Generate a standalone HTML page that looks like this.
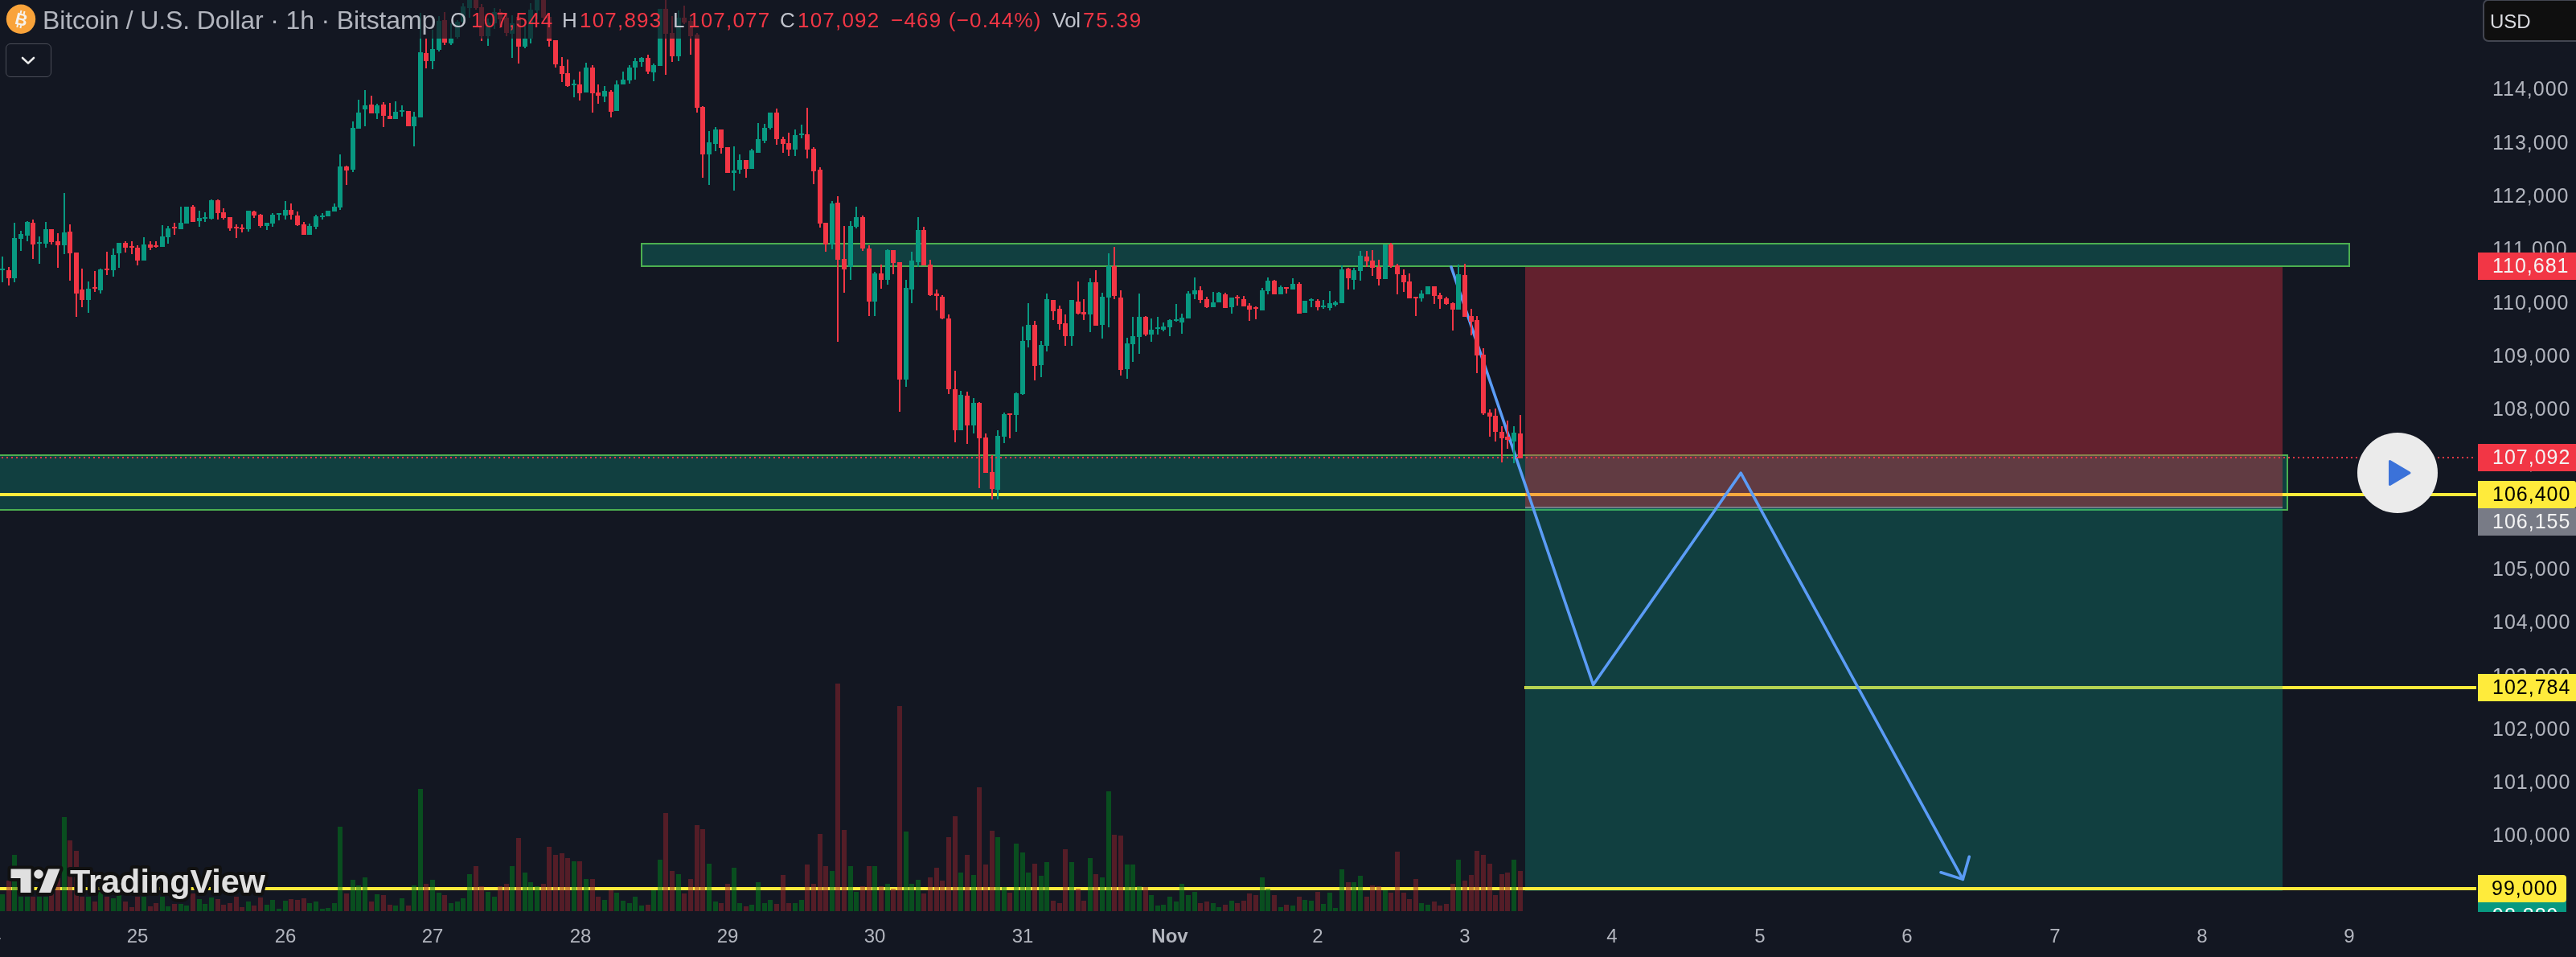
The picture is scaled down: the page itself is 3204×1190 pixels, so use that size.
<!DOCTYPE html>
<html><head><meta charset="utf-8"><title>BTCUSD chart</title>
<style>
html,body{margin:0;padding:0;background:#131722;}
body{width:3204px;height:1190px;overflow:hidden;position:relative;font-family:"Liberation Sans",sans-serif;}
svg{position:absolute;left:0;top:0;}
.abs{position:absolute;white-space:nowrap;}
.pl,.tag,.tl,.lg,.abs,.gs{will-change:transform;}
.pl{position:absolute;left:3100px;width:96px;height:30px;line-height:30px;font-size:25px;letter-spacing:1px;color:#b2b5be;white-space:nowrap;}
.tag{position:absolute;left:3082px;width:122px;height:34px;line-height:32px;font-size:25px;letter-spacing:1px;white-space:nowrap;text-indent:18px;}
.tl{position:absolute;top:1149px;width:100px;height:30px;line-height:30px;text-align:center;font-size:24px;color:#b2b5be;}
.tl.b{font-weight:bold;}
.lg{position:absolute;top:10px;height:30px;line-height:30px;font-size:26px;white-space:nowrap;}
.k{color:#c1c4cd;} .v{color:#f23645;letter-spacing:1.2px;}
</style></head><body>
<svg width="3204" height="1190" viewBox="0 0 3204 1190" shape-rendering="crispEdges">
<!-- support / resistance boxes -->
<rect x="798" y="303" width="2124" height="28" fill="rgba(12,156,137,0.3)" stroke="#4caf50" stroke-width="2"/>
<rect x="-10" y="566" width="2855" height="68" fill="rgba(12,156,137,0.3)" stroke="#4caf50" stroke-width="2"/>
<!-- yellow levels -->
<rect x="0" y="613" width="3080" height="4" fill="#ffeb3b"/>
<rect x="1896" y="853" width="1184" height="4" fill="#ffeb3b"/>
<!-- short position -->
<rect x="1897" y="332" width="942" height="299" fill="rgba(242,54,69,0.36)"/>
<rect x="1897" y="630" width="942" height="2" fill="#787b86"/>
<rect x="1897" y="632" width="942" height="476" fill="rgba(12,156,137,0.3)"/>
<rect x="0" y="1103" width="3080" height="4" fill="#ffeb3b"/>
<g shape-rendering="auto" fill="none" stroke="#5b9cf6" stroke-width="3.6" stroke-linecap="round" stroke-linejoin="round">
<polyline points="1805,332 1981.6,851.5 2165.2,588.2 2441.3,1093.4"/>
<polyline points="2449.3,1065.3 2441.3,1093.4 2414,1084.8"/>
</g>
<!-- candles -->
<rect x="2" y="319" width="2" height="32" fill="#089981"/>
<rect x="0" y="334" width="6" height="2" fill="#089981"/>
<rect x="10" y="332" width="2" height="23" fill="#f23645"/>
<rect x="8" y="336" width="6" height="10" fill="#f23645"/>
<rect x="17" y="277" width="2" height="74" fill="#089981"/>
<rect x="15" y="296" width="6" height="50" fill="#089981"/>
<rect x="25" y="287" width="2" height="25" fill="#089981"/>
<rect x="23" y="291" width="6" height="6" fill="#089981"/>
<rect x="33" y="275" width="2" height="25" fill="#089981"/>
<rect x="31" y="276" width="6" height="17" fill="#089981"/>
<rect x="40" y="273" width="2" height="49" fill="#f23645"/>
<rect x="38" y="277" width="6" height="27" fill="#f23645"/>
<rect x="48" y="294" width="2" height="34" fill="#089981"/>
<rect x="46" y="301" width="6" height="2" fill="#089981"/>
<rect x="56" y="276" width="2" height="32" fill="#089981"/>
<rect x="54" y="285" width="6" height="18" fill="#089981"/>
<rect x="63" y="285" width="2" height="19" fill="#f23645"/>
<rect x="61" y="285" width="6" height="16" fill="#f23645"/>
<rect x="71" y="290" width="2" height="43" fill="#f23645"/>
<rect x="69" y="300" width="6" height="5" fill="#f23645"/>
<rect x="79" y="240" width="2" height="76" fill="#089981"/>
<rect x="77" y="289" width="6" height="16" fill="#089981"/>
<rect x="86" y="279" width="2" height="70" fill="#f23645"/>
<rect x="84" y="288" width="6" height="27" fill="#f23645"/>
<rect x="94" y="314" width="2" height="80" fill="#f23645"/>
<rect x="92" y="314" width="6" height="51" fill="#f23645"/>
<rect x="101" y="334" width="2" height="48" fill="#f23645"/>
<rect x="99" y="360" width="6" height="13" fill="#f23645"/>
<rect x="109" y="350" width="2" height="39" fill="#089981"/>
<rect x="107" y="359" width="6" height="14" fill="#089981"/>
<rect x="117" y="337" width="2" height="26" fill="#f23645"/>
<rect x="115" y="357" width="6" height="2" fill="#f23645"/>
<rect x="124" y="334" width="2" height="31" fill="#089981"/>
<rect x="122" y="335" width="6" height="26" fill="#089981"/>
<rect x="132" y="313" width="2" height="29" fill="#f23645"/>
<rect x="130" y="334" width="6" height="2" fill="#f23645"/>
<rect x="140" y="309" width="2" height="35" fill="#089981"/>
<rect x="138" y="317" width="6" height="19" fill="#089981"/>
<rect x="147" y="302" width="2" height="31" fill="#089981"/>
<rect x="145" y="302" width="6" height="13" fill="#089981"/>
<rect x="155" y="300" width="2" height="14" fill="#f23645"/>
<rect x="153" y="302" width="6" height="6" fill="#f23645"/>
<rect x="163" y="300" width="2" height="16" fill="#f23645"/>
<rect x="161" y="306" width="6" height="2" fill="#f23645"/>
<rect x="170" y="305" width="2" height="25" fill="#f23645"/>
<rect x="168" y="308" width="6" height="16" fill="#f23645"/>
<rect x="178" y="295" width="2" height="29" fill="#089981"/>
<rect x="176" y="304" width="6" height="20" fill="#089981"/>
<rect x="186" y="300" width="2" height="11" fill="#f23645"/>
<rect x="184" y="304" width="6" height="4" fill="#f23645"/>
<rect x="193" y="300" width="2" height="8" fill="#f23645"/>
<rect x="191" y="305" width="6" height="2" fill="#f23645"/>
<rect x="201" y="280" width="2" height="27" fill="#089981"/>
<rect x="199" y="294" width="6" height="13" fill="#089981"/>
<rect x="208" y="281" width="2" height="22" fill="#089981"/>
<rect x="206" y="284" width="6" height="11" fill="#089981"/>
<rect x="216" y="277" width="2" height="15" fill="#f23645"/>
<rect x="214" y="282" width="6" height="2" fill="#f23645"/>
<rect x="224" y="257" width="2" height="28" fill="#089981"/>
<rect x="222" y="277" width="6" height="8" fill="#089981"/>
<rect x="231" y="257" width="2" height="21" fill="#089981"/>
<rect x="229" y="257" width="6" height="21" fill="#089981"/>
<rect x="239" y="255" width="2" height="21" fill="#f23645"/>
<rect x="237" y="257" width="6" height="19" fill="#f23645"/>
<rect x="247" y="262" width="2" height="20" fill="#089981"/>
<rect x="245" y="271" width="6" height="4" fill="#089981"/>
<rect x="254" y="264" width="2" height="12" fill="#089981"/>
<rect x="252" y="270" width="6" height="2" fill="#089981"/>
<rect x="262" y="248" width="2" height="25" fill="#089981"/>
<rect x="260" y="249" width="6" height="23" fill="#089981"/>
<rect x="270" y="248" width="2" height="25" fill="#f23645"/>
<rect x="268" y="249" width="6" height="16" fill="#f23645"/>
<rect x="277" y="259" width="2" height="14" fill="#f23645"/>
<rect x="275" y="264" width="6" height="7" fill="#f23645"/>
<rect x="285" y="270" width="2" height="17" fill="#f23645"/>
<rect x="283" y="270" width="6" height="14" fill="#f23645"/>
<rect x="293" y="279" width="2" height="17" fill="#f23645"/>
<rect x="291" y="282" width="6" height="2" fill="#f23645"/>
<rect x="300" y="279" width="2" height="10" fill="#f23645"/>
<rect x="298" y="283" width="6" height="2" fill="#f23645"/>
<rect x="308" y="262" width="2" height="26" fill="#089981"/>
<rect x="306" y="262" width="6" height="23" fill="#089981"/>
<rect x="315" y="262" width="2" height="9" fill="#f23645"/>
<rect x="313" y="263" width="6" height="5" fill="#f23645"/>
<rect x="323" y="266" width="2" height="17" fill="#f23645"/>
<rect x="321" y="267" width="6" height="14" fill="#f23645"/>
<rect x="331" y="277" width="2" height="9" fill="#089981"/>
<rect x="329" y="277" width="6" height="4" fill="#089981"/>
<rect x="338" y="265" width="2" height="17" fill="#089981"/>
<rect x="336" y="267" width="6" height="11" fill="#089981"/>
<rect x="346" y="265" width="2" height="9" fill="#089981"/>
<rect x="344" y="265" width="6" height="2" fill="#089981"/>
<rect x="354" y="250" width="2" height="23" fill="#089981"/>
<rect x="352" y="261" width="6" height="7" fill="#089981"/>
<rect x="361" y="253" width="2" height="20" fill="#f23645"/>
<rect x="359" y="261" width="6" height="6" fill="#f23645"/>
<rect x="369" y="263" width="2" height="18" fill="#f23645"/>
<rect x="367" y="268" width="6" height="12" fill="#f23645"/>
<rect x="377" y="276" width="2" height="16" fill="#f23645"/>
<rect x="375" y="279" width="6" height="13" fill="#f23645"/>
<rect x="384" y="278" width="2" height="14" fill="#089981"/>
<rect x="382" y="281" width="6" height="11" fill="#089981"/>
<rect x="392" y="267" width="2" height="18" fill="#089981"/>
<rect x="390" y="269" width="6" height="13" fill="#089981"/>
<rect x="400" y="265" width="2" height="8" fill="#089981"/>
<rect x="398" y="268" width="6" height="2" fill="#089981"/>
<rect x="407" y="262" width="2" height="7" fill="#089981"/>
<rect x="405" y="262" width="6" height="7" fill="#089981"/>
<rect x="415" y="253" width="2" height="10" fill="#089981"/>
<rect x="413" y="257" width="6" height="6" fill="#089981"/>
<rect x="422" y="192" width="2" height="69" fill="#089981"/>
<rect x="420" y="207" width="6" height="51" fill="#089981"/>
<rect x="430" y="206" width="2" height="24" fill="#f23645"/>
<rect x="428" y="207" width="6" height="5" fill="#f23645"/>
<rect x="438" y="151" width="2" height="63" fill="#089981"/>
<rect x="436" y="159" width="6" height="52" fill="#089981"/>
<rect x="445" y="124" width="2" height="36" fill="#089981"/>
<rect x="443" y="140" width="6" height="20" fill="#089981"/>
<rect x="453" y="112" width="2" height="45" fill="#089981"/>
<rect x="451" y="131" width="6" height="5" fill="#089981"/>
<rect x="461" y="119" width="2" height="22" fill="#f23645"/>
<rect x="459" y="130" width="6" height="11" fill="#f23645"/>
<rect x="468" y="129" width="2" height="19" fill="#089981"/>
<rect x="466" y="131" width="6" height="10" fill="#089981"/>
<rect x="476" y="127" width="2" height="31" fill="#f23645"/>
<rect x="474" y="130" width="6" height="14" fill="#f23645"/>
<rect x="484" y="128" width="2" height="20" fill="#f23645"/>
<rect x="482" y="144" width="6" height="4" fill="#f23645"/>
<rect x="491" y="126" width="2" height="22" fill="#089981"/>
<rect x="489" y="139" width="6" height="9" fill="#089981"/>
<rect x="499" y="131" width="2" height="14" fill="#089981"/>
<rect x="497" y="137" width="6" height="2" fill="#089981"/>
<rect x="507" y="138" width="2" height="19" fill="#f23645"/>
<rect x="505" y="138" width="6" height="19" fill="#f23645"/>
<rect x="514" y="139" width="2" height="43" fill="#089981"/>
<rect x="512" y="145" width="6" height="12" fill="#089981"/>
<rect x="522" y="16" width="2" height="130" fill="#089981"/>
<rect x="520" y="65" width="6" height="81" fill="#089981"/>
<rect x="529" y="48" width="2" height="37" fill="#f23645"/>
<rect x="527" y="66" width="6" height="10" fill="#f23645"/>
<rect x="537" y="37" width="2" height="49" fill="#089981"/>
<rect x="535" y="61" width="6" height="15" fill="#089981"/>
<rect x="545" y="20" width="2" height="44" fill="#089981"/>
<rect x="543" y="26" width="6" height="36" fill="#089981"/>
<rect x="552" y="15" width="2" height="41" fill="#f23645"/>
<rect x="550" y="25" width="6" height="28" fill="#f23645"/>
<rect x="560" y="29" width="2" height="27" fill="#089981"/>
<rect x="558" y="48" width="6" height="6" fill="#089981"/>
<rect x="568" y="25" width="2" height="23" fill="#089981"/>
<rect x="566" y="27" width="6" height="19" fill="#089981"/>
<rect x="575" y="4" width="2" height="28" fill="#089981"/>
<rect x="573" y="8" width="6" height="19" fill="#089981"/>
<rect x="583" y="-2" width="2" height="24" fill="#089981"/>
<rect x="581" y="-2" width="6" height="12" fill="#089981"/>
<rect x="591" y="-2" width="2" height="14" fill="#f23645"/>
<rect x="589" y="-2" width="6" height="12" fill="#f23645"/>
<rect x="598" y="5" width="2" height="46" fill="#f23645"/>
<rect x="596" y="9" width="6" height="36" fill="#f23645"/>
<rect x="606" y="23" width="2" height="34" fill="#089981"/>
<rect x="604" y="28" width="6" height="17" fill="#089981"/>
<rect x="614" y="10" width="2" height="26" fill="#089981"/>
<rect x="612" y="15" width="6" height="14" fill="#089981"/>
<rect x="621" y="11" width="2" height="24" fill="#f23645"/>
<rect x="619" y="15" width="6" height="9" fill="#f23645"/>
<rect x="629" y="16" width="2" height="29" fill="#f23645"/>
<rect x="627" y="22" width="6" height="19" fill="#f23645"/>
<rect x="636" y="19" width="2" height="53" fill="#089981"/>
<rect x="634" y="29" width="6" height="13" fill="#089981"/>
<rect x="644" y="20" width="2" height="59" fill="#f23645"/>
<rect x="642" y="21" width="6" height="37" fill="#f23645"/>
<rect x="652" y="32" width="2" height="28" fill="#089981"/>
<rect x="650" y="48" width="6" height="10" fill="#089981"/>
<rect x="659" y="4" width="2" height="50" fill="#089981"/>
<rect x="657" y="12" width="6" height="36" fill="#089981"/>
<rect x="667" y="-2" width="2" height="26" fill="#089981"/>
<rect x="665" y="-2" width="6" height="15" fill="#089981"/>
<rect x="675" y="-2" width="2" height="25" fill="#f23645"/>
<rect x="673" y="-2" width="6" height="24" fill="#f23645"/>
<rect x="682" y="20" width="2" height="38" fill="#f23645"/>
<rect x="680" y="21" width="6" height="30" fill="#f23645"/>
<rect x="690" y="50" width="2" height="34" fill="#f23645"/>
<rect x="688" y="50" width="6" height="30" fill="#f23645"/>
<rect x="698" y="71" width="2" height="31" fill="#f23645"/>
<rect x="696" y="82" width="6" height="10" fill="#f23645"/>
<rect x="705" y="74" width="2" height="34" fill="#f23645"/>
<rect x="703" y="91" width="6" height="16" fill="#f23645"/>
<rect x="713" y="99" width="2" height="22" fill="#089981"/>
<rect x="711" y="104" width="6" height="2" fill="#089981"/>
<rect x="720" y="89" width="2" height="36" fill="#f23645"/>
<rect x="718" y="105" width="6" height="11" fill="#f23645"/>
<rect x="728" y="78" width="2" height="37" fill="#089981"/>
<rect x="726" y="84" width="6" height="31" fill="#089981"/>
<rect x="736" y="81" width="2" height="59" fill="#f23645"/>
<rect x="734" y="84" width="6" height="32" fill="#f23645"/>
<rect x="743" y="105" width="2" height="24" fill="#f23645"/>
<rect x="741" y="115" width="6" height="4" fill="#f23645"/>
<rect x="751" y="107" width="2" height="20" fill="#089981"/>
<rect x="749" y="113" width="6" height="7" fill="#089981"/>
<rect x="759" y="112" width="2" height="34" fill="#f23645"/>
<rect x="757" y="114" width="6" height="25" fill="#f23645"/>
<rect x="766" y="100" width="2" height="38" fill="#089981"/>
<rect x="764" y="105" width="6" height="33" fill="#089981"/>
<rect x="774" y="89" width="2" height="16" fill="#089981"/>
<rect x="772" y="99" width="6" height="6" fill="#089981"/>
<rect x="782" y="81" width="2" height="23" fill="#089981"/>
<rect x="780" y="84" width="6" height="16" fill="#089981"/>
<rect x="789" y="72" width="2" height="27" fill="#089981"/>
<rect x="787" y="76" width="6" height="8" fill="#089981"/>
<rect x="797" y="71" width="2" height="12" fill="#089981"/>
<rect x="795" y="72" width="6" height="5" fill="#089981"/>
<rect x="805" y="68" width="2" height="24" fill="#f23645"/>
<rect x="803" y="72" width="6" height="17" fill="#f23645"/>
<rect x="812" y="79" width="2" height="22" fill="#089981"/>
<rect x="810" y="81" width="6" height="9" fill="#089981"/>
<rect x="820" y="11" width="2" height="71" fill="#089981"/>
<rect x="818" y="11" width="6" height="71" fill="#089981"/>
<rect x="827" y="0" width="2" height="93" fill="#f23645"/>
<rect x="825" y="11" width="6" height="31" fill="#f23645"/>
<rect x="835" y="20" width="2" height="57" fill="#f23645"/>
<rect x="833" y="41" width="6" height="29" fill="#f23645"/>
<rect x="843" y="13" width="2" height="63" fill="#089981"/>
<rect x="841" y="22" width="6" height="48" fill="#089981"/>
<rect x="850" y="7" width="2" height="23" fill="#f23645"/>
<rect x="848" y="22" width="6" height="6" fill="#f23645"/>
<rect x="858" y="22" width="2" height="46" fill="#f23645"/>
<rect x="856" y="26" width="6" height="19" fill="#f23645"/>
<rect x="866" y="41" width="2" height="99" fill="#f23645"/>
<rect x="864" y="43" width="6" height="91" fill="#f23645"/>
<rect x="873" y="132" width="2" height="89" fill="#f23645"/>
<rect x="871" y="133" width="6" height="59" fill="#f23645"/>
<rect x="881" y="163" width="2" height="67" fill="#089981"/>
<rect x="879" y="177" width="6" height="15" fill="#089981"/>
<rect x="889" y="158" width="2" height="30" fill="#089981"/>
<rect x="887" y="161" width="6" height="18" fill="#089981"/>
<rect x="896" y="161" width="2" height="30" fill="#f23645"/>
<rect x="894" y="161" width="6" height="23" fill="#f23645"/>
<rect x="904" y="183" width="2" height="32" fill="#f23645"/>
<rect x="902" y="183" width="6" height="32" fill="#f23645"/>
<rect x="912" y="182" width="2" height="55" fill="#089981"/>
<rect x="910" y="212" width="6" height="3" fill="#089981"/>
<rect x="919" y="192" width="2" height="24" fill="#089981"/>
<rect x="917" y="199" width="6" height="12" fill="#089981"/>
<rect x="927" y="199" width="2" height="22" fill="#f23645"/>
<rect x="925" y="199" width="6" height="11" fill="#f23645"/>
<rect x="934" y="185" width="2" height="25" fill="#089981"/>
<rect x="932" y="187" width="6" height="23" fill="#089981"/>
<rect x="942" y="153" width="2" height="37" fill="#089981"/>
<rect x="940" y="173" width="6" height="17" fill="#089981"/>
<rect x="950" y="154" width="2" height="24" fill="#089981"/>
<rect x="948" y="159" width="6" height="16" fill="#089981"/>
<rect x="957" y="140" width="2" height="21" fill="#089981"/>
<rect x="955" y="140" width="6" height="19" fill="#089981"/>
<rect x="965" y="135" width="2" height="45" fill="#f23645"/>
<rect x="963" y="140" width="6" height="33" fill="#f23645"/>
<rect x="973" y="170" width="2" height="20" fill="#f23645"/>
<rect x="971" y="173" width="6" height="6" fill="#f23645"/>
<rect x="980" y="165" width="2" height="29" fill="#f23645"/>
<rect x="978" y="178" width="6" height="8" fill="#f23645"/>
<rect x="988" y="161" width="2" height="33" fill="#089981"/>
<rect x="986" y="168" width="6" height="18" fill="#089981"/>
<rect x="996" y="155" width="2" height="17" fill="#089981"/>
<rect x="994" y="166" width="6" height="2" fill="#089981"/>
<rect x="1003" y="134" width="2" height="63" fill="#f23645"/>
<rect x="1001" y="167" width="6" height="19" fill="#f23645"/>
<rect x="1011" y="183" width="2" height="46" fill="#f23645"/>
<rect x="1009" y="185" width="6" height="28" fill="#f23645"/>
<rect x="1019" y="208" width="2" height="75" fill="#f23645"/>
<rect x="1017" y="211" width="6" height="67" fill="#f23645"/>
<rect x="1026" y="277" width="2" height="36" fill="#f23645"/>
<rect x="1024" y="277" width="6" height="27" fill="#f23645"/>
<rect x="1034" y="250" width="2" height="60" fill="#089981"/>
<rect x="1032" y="253" width="6" height="51" fill="#089981"/>
<rect x="1041" y="244" width="2" height="181" fill="#f23645"/>
<rect x="1039" y="252" width="6" height="71" fill="#f23645"/>
<rect x="1049" y="281" width="2" height="83" fill="#f23645"/>
<rect x="1047" y="322" width="6" height="13" fill="#f23645"/>
<rect x="1057" y="275" width="2" height="73" fill="#089981"/>
<rect x="1055" y="281" width="6" height="51" fill="#089981"/>
<rect x="1064" y="257" width="2" height="27" fill="#089981"/>
<rect x="1062" y="270" width="6" height="12" fill="#089981"/>
<rect x="1072" y="268" width="2" height="44" fill="#f23645"/>
<rect x="1070" y="270" width="6" height="39" fill="#f23645"/>
<rect x="1080" y="305" width="2" height="88" fill="#f23645"/>
<rect x="1078" y="309" width="6" height="66" fill="#f23645"/>
<rect x="1087" y="338" width="2" height="55" fill="#089981"/>
<rect x="1085" y="340" width="6" height="35" fill="#089981"/>
<rect x="1095" y="329" width="2" height="30" fill="#f23645"/>
<rect x="1093" y="340" width="6" height="8" fill="#f23645"/>
<rect x="1103" y="310" width="2" height="44" fill="#089981"/>
<rect x="1101" y="311" width="6" height="37" fill="#089981"/>
<rect x="1110" y="311" width="2" height="30" fill="#f23645"/>
<rect x="1108" y="311" width="6" height="16" fill="#f23645"/>
<rect x="1118" y="326" width="2" height="186" fill="#f23645"/>
<rect x="1116" y="326" width="6" height="146" fill="#f23645"/>
<rect x="1126" y="348" width="2" height="133" fill="#089981"/>
<rect x="1124" y="358" width="6" height="114" fill="#089981"/>
<rect x="1133" y="313" width="2" height="64" fill="#089981"/>
<rect x="1131" y="324" width="6" height="36" fill="#089981"/>
<rect x="1141" y="270" width="2" height="62" fill="#089981"/>
<rect x="1139" y="286" width="6" height="40" fill="#089981"/>
<rect x="1148" y="282" width="2" height="48" fill="#f23645"/>
<rect x="1146" y="286" width="6" height="44" fill="#f23645"/>
<rect x="1156" y="323" width="2" height="45" fill="#f23645"/>
<rect x="1154" y="329" width="6" height="38" fill="#f23645"/>
<rect x="1164" y="360" width="2" height="26" fill="#f23645"/>
<rect x="1162" y="365" width="6" height="3" fill="#f23645"/>
<rect x="1171" y="367" width="2" height="30" fill="#f23645"/>
<rect x="1169" y="369" width="6" height="27" fill="#f23645"/>
<rect x="1179" y="391" width="2" height="99" fill="#f23645"/>
<rect x="1177" y="396" width="6" height="88" fill="#f23645"/>
<rect x="1187" y="461" width="2" height="89" fill="#f23645"/>
<rect x="1185" y="484" width="6" height="51" fill="#f23645"/>
<rect x="1194" y="486" width="2" height="49" fill="#089981"/>
<rect x="1192" y="491" width="6" height="44" fill="#089981"/>
<rect x="1202" y="487" width="2" height="65" fill="#f23645"/>
<rect x="1200" y="492" width="6" height="37" fill="#f23645"/>
<rect x="1210" y="495" width="2" height="44" fill="#089981"/>
<rect x="1208" y="501" width="6" height="28" fill="#089981"/>
<rect x="1217" y="500" width="2" height="107" fill="#f23645"/>
<rect x="1215" y="501" width="6" height="44" fill="#f23645"/>
<rect x="1225" y="539" width="2" height="49" fill="#f23645"/>
<rect x="1223" y="544" width="6" height="44" fill="#f23645"/>
<rect x="1233" y="566" width="2" height="55" fill="#f23645"/>
<rect x="1231" y="587" width="6" height="21" fill="#f23645"/>
<rect x="1240" y="535" width="2" height="86" fill="#089981"/>
<rect x="1238" y="542" width="6" height="67" fill="#089981"/>
<rect x="1248" y="513" width="2" height="38" fill="#089981"/>
<rect x="1246" y="515" width="6" height="28" fill="#089981"/>
<rect x="1255" y="514" width="2" height="31" fill="#f23645"/>
<rect x="1253" y="514" width="6" height="2" fill="#f23645"/>
<rect x="1263" y="488" width="2" height="49" fill="#089981"/>
<rect x="1261" y="489" width="6" height="27" fill="#089981"/>
<rect x="1271" y="406" width="2" height="85" fill="#089981"/>
<rect x="1269" y="424" width="6" height="66" fill="#089981"/>
<rect x="1278" y="377" width="2" height="55" fill="#089981"/>
<rect x="1276" y="404" width="6" height="19" fill="#089981"/>
<rect x="1286" y="399" width="2" height="74" fill="#f23645"/>
<rect x="1284" y="404" width="6" height="51" fill="#f23645"/>
<rect x="1294" y="424" width="2" height="45" fill="#089981"/>
<rect x="1292" y="429" width="6" height="25" fill="#089981"/>
<rect x="1301" y="365" width="2" height="72" fill="#089981"/>
<rect x="1299" y="372" width="6" height="58" fill="#089981"/>
<rect x="1309" y="373" width="2" height="25" fill="#f23645"/>
<rect x="1307" y="373" width="6" height="14" fill="#f23645"/>
<rect x="1317" y="380" width="2" height="30" fill="#f23645"/>
<rect x="1315" y="384" width="6" height="19" fill="#f23645"/>
<rect x="1324" y="391" width="2" height="39" fill="#f23645"/>
<rect x="1322" y="402" width="6" height="16" fill="#f23645"/>
<rect x="1332" y="373" width="2" height="57" fill="#089981"/>
<rect x="1330" y="373" width="6" height="45" fill="#089981"/>
<rect x="1340" y="350" width="2" height="41" fill="#f23645"/>
<rect x="1338" y="375" width="6" height="15" fill="#f23645"/>
<rect x="1347" y="372" width="2" height="26" fill="#f23645"/>
<rect x="1345" y="388" width="6" height="3" fill="#f23645"/>
<rect x="1355" y="346" width="2" height="67" fill="#089981"/>
<rect x="1353" y="351" width="6" height="40" fill="#089981"/>
<rect x="1362" y="336" width="2" height="69" fill="#f23645"/>
<rect x="1360" y="351" width="6" height="54" fill="#f23645"/>
<rect x="1370" y="364" width="2" height="57" fill="#089981"/>
<rect x="1368" y="369" width="6" height="35" fill="#089981"/>
<rect x="1378" y="315" width="2" height="92" fill="#089981"/>
<rect x="1376" y="331" width="6" height="39" fill="#089981"/>
<rect x="1385" y="307" width="2" height="65" fill="#f23645"/>
<rect x="1383" y="331" width="6" height="37" fill="#f23645"/>
<rect x="1393" y="361" width="2" height="106" fill="#f23645"/>
<rect x="1391" y="370" width="6" height="90" fill="#f23645"/>
<rect x="1401" y="420" width="2" height="51" fill="#089981"/>
<rect x="1399" y="427" width="6" height="32" fill="#089981"/>
<rect x="1408" y="394" width="2" height="56" fill="#089981"/>
<rect x="1406" y="418" width="6" height="10" fill="#089981"/>
<rect x="1416" y="365" width="2" height="75" fill="#089981"/>
<rect x="1414" y="394" width="6" height="25" fill="#089981"/>
<rect x="1424" y="393" width="2" height="25" fill="#f23645"/>
<rect x="1422" y="394" width="6" height="22" fill="#f23645"/>
<rect x="1431" y="396" width="2" height="29" fill="#089981"/>
<rect x="1429" y="410" width="6" height="6" fill="#089981"/>
<rect x="1439" y="394" width="2" height="22" fill="#089981"/>
<rect x="1437" y="407" width="6" height="2" fill="#089981"/>
<rect x="1446" y="401" width="2" height="11" fill="#089981"/>
<rect x="1444" y="406" width="6" height="4" fill="#089981"/>
<rect x="1454" y="397" width="2" height="21" fill="#089981"/>
<rect x="1452" y="398" width="6" height="9" fill="#089981"/>
<rect x="1462" y="378" width="2" height="22" fill="#089981"/>
<rect x="1460" y="397" width="6" height="2" fill="#089981"/>
<rect x="1469" y="390" width="2" height="25" fill="#089981"/>
<rect x="1467" y="395" width="6" height="6" fill="#089981"/>
<rect x="1477" y="362" width="2" height="34" fill="#089981"/>
<rect x="1475" y="365" width="6" height="31" fill="#089981"/>
<rect x="1485" y="345" width="2" height="27" fill="#089981"/>
<rect x="1483" y="361" width="6" height="5" fill="#089981"/>
<rect x="1492" y="356" width="2" height="21" fill="#f23645"/>
<rect x="1490" y="361" width="6" height="12" fill="#f23645"/>
<rect x="1500" y="369" width="2" height="14" fill="#f23645"/>
<rect x="1498" y="372" width="6" height="10" fill="#f23645"/>
<rect x="1508" y="363" width="2" height="19" fill="#089981"/>
<rect x="1506" y="376" width="6" height="6" fill="#089981"/>
<rect x="1515" y="363" width="2" height="13" fill="#089981"/>
<rect x="1513" y="364" width="6" height="12" fill="#089981"/>
<rect x="1523" y="364" width="2" height="19" fill="#f23645"/>
<rect x="1521" y="366" width="6" height="17" fill="#f23645"/>
<rect x="1531" y="370" width="2" height="20" fill="#089981"/>
<rect x="1529" y="370" width="6" height="12" fill="#089981"/>
<rect x="1538" y="367" width="2" height="13" fill="#f23645"/>
<rect x="1536" y="369" width="6" height="2" fill="#f23645"/>
<rect x="1546" y="368" width="2" height="13" fill="#f23645"/>
<rect x="1544" y="372" width="6" height="9" fill="#f23645"/>
<rect x="1553" y="377" width="2" height="22" fill="#f23645"/>
<rect x="1551" y="380" width="6" height="5" fill="#f23645"/>
<rect x="1561" y="381" width="2" height="16" fill="#f23645"/>
<rect x="1559" y="382" width="6" height="2" fill="#f23645"/>
<rect x="1569" y="358" width="2" height="28" fill="#089981"/>
<rect x="1567" y="361" width="6" height="25" fill="#089981"/>
<rect x="1576" y="345" width="2" height="21" fill="#089981"/>
<rect x="1574" y="349" width="6" height="13" fill="#089981"/>
<rect x="1584" y="348" width="2" height="18" fill="#f23645"/>
<rect x="1582" y="349" width="6" height="17" fill="#f23645"/>
<rect x="1592" y="355" width="2" height="11" fill="#089981"/>
<rect x="1590" y="357" width="6" height="9" fill="#089981"/>
<rect x="1599" y="357" width="2" height="8" fill="#f23645"/>
<rect x="1597" y="357" width="6" height="2" fill="#f23645"/>
<rect x="1607" y="346" width="2" height="14" fill="#089981"/>
<rect x="1605" y="353" width="6" height="7" fill="#089981"/>
<rect x="1615" y="351" width="2" height="39" fill="#f23645"/>
<rect x="1613" y="353" width="6" height="37" fill="#f23645"/>
<rect x="1622" y="374" width="2" height="15" fill="#089981"/>
<rect x="1620" y="374" width="6" height="15" fill="#089981"/>
<rect x="1630" y="371" width="2" height="11" fill="#089981"/>
<rect x="1628" y="372" width="6" height="2" fill="#089981"/>
<rect x="1638" y="372" width="2" height="14" fill="#f23645"/>
<rect x="1636" y="374" width="6" height="8" fill="#f23645"/>
<rect x="1645" y="373" width="2" height="11" fill="#089981"/>
<rect x="1643" y="380" width="6" height="2" fill="#089981"/>
<rect x="1653" y="362" width="2" height="24" fill="#089981"/>
<rect x="1651" y="377" width="6" height="6" fill="#089981"/>
<rect x="1660" y="374" width="2" height="7" fill="#089981"/>
<rect x="1658" y="376" width="6" height="3" fill="#089981"/>
<rect x="1668" y="330" width="2" height="47" fill="#089981"/>
<rect x="1666" y="335" width="6" height="42" fill="#089981"/>
<rect x="1676" y="333" width="2" height="27" fill="#f23645"/>
<rect x="1674" y="334" width="6" height="12" fill="#f23645"/>
<rect x="1683" y="333" width="2" height="27" fill="#089981"/>
<rect x="1681" y="336" width="6" height="12" fill="#089981"/>
<rect x="1691" y="312" width="2" height="37" fill="#089981"/>
<rect x="1689" y="318" width="6" height="19" fill="#089981"/>
<rect x="1699" y="312" width="2" height="20" fill="#f23645"/>
<rect x="1697" y="319" width="6" height="6" fill="#f23645"/>
<rect x="1706" y="311" width="2" height="32" fill="#f23645"/>
<rect x="1704" y="324" width="6" height="9" fill="#f23645"/>
<rect x="1714" y="323" width="2" height="32" fill="#f23645"/>
<rect x="1712" y="332" width="6" height="15" fill="#f23645"/>
<rect x="1722" y="304" width="2" height="43" fill="#089981"/>
<rect x="1720" y="304" width="6" height="43" fill="#089981"/>
<rect x="1729" y="302" width="2" height="31" fill="#f23645"/>
<rect x="1727" y="304" width="6" height="27" fill="#f23645"/>
<rect x="1737" y="328" width="2" height="38" fill="#f23645"/>
<rect x="1735" y="330" width="6" height="11" fill="#f23645"/>
<rect x="1745" y="335" width="2" height="28" fill="#f23645"/>
<rect x="1743" y="342" width="6" height="9" fill="#f23645"/>
<rect x="1752" y="340" width="2" height="31" fill="#f23645"/>
<rect x="1750" y="350" width="6" height="21" fill="#f23645"/>
<rect x="1760" y="369" width="2" height="24" fill="#f23645"/>
<rect x="1758" y="369" width="6" height="2" fill="#f23645"/>
<rect x="1767" y="361" width="2" height="14" fill="#089981"/>
<rect x="1765" y="365" width="6" height="6" fill="#089981"/>
<rect x="1775" y="356" width="2" height="10" fill="#089981"/>
<rect x="1773" y="356" width="6" height="10" fill="#089981"/>
<rect x="1783" y="356" width="2" height="22" fill="#f23645"/>
<rect x="1781" y="356" width="6" height="12" fill="#f23645"/>
<rect x="1790" y="364" width="2" height="20" fill="#f23645"/>
<rect x="1788" y="367" width="6" height="5" fill="#f23645"/>
<rect x="1798" y="369" width="2" height="10" fill="#f23645"/>
<rect x="1796" y="371" width="6" height="7" fill="#f23645"/>
<rect x="1806" y="376" width="2" height="35" fill="#f23645"/>
<rect x="1804" y="377" width="6" height="8" fill="#f23645"/>
<rect x="1813" y="329" width="2" height="56" fill="#089981"/>
<rect x="1811" y="341" width="6" height="44" fill="#089981"/>
<rect x="1821" y="328" width="2" height="66" fill="#f23645"/>
<rect x="1819" y="342" width="6" height="52" fill="#f23645"/>
<rect x="1829" y="384" width="2" height="33" fill="#f23645"/>
<rect x="1827" y="393" width="6" height="7" fill="#f23645"/>
<rect x="1836" y="393" width="2" height="71" fill="#f23645"/>
<rect x="1834" y="398" width="6" height="44" fill="#f23645"/>
<rect x="1844" y="433" width="2" height="83" fill="#f23645"/>
<rect x="1842" y="441" width="6" height="73" fill="#f23645"/>
<rect x="1852" y="509" width="2" height="34" fill="#f23645"/>
<rect x="1850" y="513" width="6" height="5" fill="#f23645"/>
<rect x="1859" y="508" width="2" height="41" fill="#f23645"/>
<rect x="1857" y="517" width="6" height="20" fill="#f23645"/>
<rect x="1867" y="530" width="2" height="45" fill="#f23645"/>
<rect x="1865" y="537" width="6" height="8" fill="#f23645"/>
<rect x="1874" y="523" width="2" height="35" fill="#f23645"/>
<rect x="1872" y="543" width="6" height="4" fill="#f23645"/>
<rect x="1882" y="530" width="2" height="46" fill="#089981"/>
<rect x="1880" y="538" width="6" height="11" fill="#089981"/>
<rect x="1890" y="516" width="2" height="54" fill="#f23645"/>
<rect x="1888" y="539" width="6" height="31" fill="#f23645"/>
<!-- volume -->
<rect x="0" y="1112" width="6" height="21" fill="rgba(0,128,28,0.52)"/>
<rect x="8" y="1095" width="6" height="38" fill="rgba(150,36,44,0.5)"/>
<rect x="15" y="1063" width="6" height="70" fill="rgba(0,128,28,0.52)"/>
<rect x="23" y="1115" width="6" height="18" fill="rgba(0,128,28,0.52)"/>
<rect x="31" y="1115" width="6" height="18" fill="rgba(0,128,28,0.52)"/>
<rect x="38" y="1115" width="6" height="18" fill="rgba(150,36,44,0.5)"/>
<rect x="46" y="1115" width="6" height="18" fill="rgba(0,128,28,0.52)"/>
<rect x="54" y="1115" width="6" height="18" fill="rgba(0,128,28,0.52)"/>
<rect x="61" y="1111" width="6" height="22" fill="rgba(150,36,44,0.5)"/>
<rect x="69" y="1092" width="6" height="41" fill="rgba(150,36,44,0.5)"/>
<rect x="77" y="1016" width="6" height="117" fill="rgba(0,128,28,0.52)"/>
<rect x="84" y="1045" width="6" height="88" fill="rgba(150,36,44,0.5)"/>
<rect x="92" y="1058" width="6" height="75" fill="rgba(150,36,44,0.5)"/>
<rect x="99" y="1115" width="6" height="18" fill="rgba(150,36,44,0.5)"/>
<rect x="107" y="1115" width="6" height="18" fill="rgba(0,128,28,0.52)"/>
<rect x="115" y="1121" width="6" height="12" fill="rgba(150,36,44,0.5)"/>
<rect x="122" y="1109" width="6" height="24" fill="rgba(0,128,28,0.52)"/>
<rect x="130" y="1115" width="6" height="18" fill="rgba(150,36,44,0.5)"/>
<rect x="138" y="1117" width="6" height="16" fill="rgba(0,128,28,0.52)"/>
<rect x="145" y="1111" width="6" height="22" fill="rgba(0,128,28,0.52)"/>
<rect x="153" y="1121" width="6" height="12" fill="rgba(150,36,44,0.5)"/>
<rect x="161" y="1128" width="6" height="5" fill="rgba(150,36,44,0.5)"/>
<rect x="168" y="1115" width="6" height="18" fill="rgba(150,36,44,0.5)"/>
<rect x="176" y="1115" width="6" height="18" fill="rgba(0,128,28,0.52)"/>
<rect x="184" y="1127" width="6" height="6" fill="rgba(150,36,44,0.5)"/>
<rect x="191" y="1123" width="6" height="10" fill="rgba(150,36,44,0.5)"/>
<rect x="199" y="1115" width="6" height="18" fill="rgba(0,128,28,0.52)"/>
<rect x="206" y="1127" width="6" height="6" fill="rgba(0,128,28,0.52)"/>
<rect x="214" y="1124" width="6" height="9" fill="rgba(150,36,44,0.5)"/>
<rect x="222" y="1124" width="6" height="9" fill="rgba(0,128,28,0.52)"/>
<rect x="229" y="1126" width="6" height="7" fill="rgba(0,128,28,0.52)"/>
<rect x="237" y="1111" width="6" height="22" fill="rgba(150,36,44,0.5)"/>
<rect x="245" y="1118" width="6" height="15" fill="rgba(0,128,28,0.52)"/>
<rect x="252" y="1124" width="6" height="9" fill="rgba(0,128,28,0.52)"/>
<rect x="260" y="1116" width="6" height="17" fill="rgba(0,128,28,0.52)"/>
<rect x="268" y="1118" width="6" height="15" fill="rgba(150,36,44,0.5)"/>
<rect x="275" y="1125" width="6" height="8" fill="rgba(150,36,44,0.5)"/>
<rect x="283" y="1123" width="6" height="10" fill="rgba(150,36,44,0.5)"/>
<rect x="291" y="1115" width="6" height="18" fill="rgba(150,36,44,0.5)"/>
<rect x="298" y="1128" width="6" height="5" fill="rgba(150,36,44,0.5)"/>
<rect x="306" y="1121" width="6" height="12" fill="rgba(0,128,28,0.52)"/>
<rect x="313" y="1126" width="6" height="7" fill="rgba(150,36,44,0.5)"/>
<rect x="321" y="1116" width="6" height="17" fill="rgba(150,36,44,0.5)"/>
<rect x="329" y="1125" width="6" height="8" fill="rgba(0,128,28,0.52)"/>
<rect x="336" y="1119" width="6" height="14" fill="rgba(0,128,28,0.52)"/>
<rect x="344" y="1130" width="6" height="3" fill="rgba(0,128,28,0.52)"/>
<rect x="352" y="1120" width="6" height="13" fill="rgba(0,128,28,0.52)"/>
<rect x="359" y="1118" width="6" height="15" fill="rgba(150,36,44,0.5)"/>
<rect x="367" y="1119" width="6" height="14" fill="rgba(150,36,44,0.5)"/>
<rect x="375" y="1117" width="6" height="16" fill="rgba(150,36,44,0.5)"/>
<rect x="382" y="1123" width="6" height="10" fill="rgba(0,128,28,0.52)"/>
<rect x="390" y="1121" width="6" height="12" fill="rgba(0,128,28,0.52)"/>
<rect x="398" y="1130" width="6" height="3" fill="rgba(0,128,28,0.52)"/>
<rect x="405" y="1129" width="6" height="4" fill="rgba(0,128,28,0.52)"/>
<rect x="413" y="1123" width="6" height="10" fill="rgba(0,128,28,0.52)"/>
<rect x="420" y="1028" width="6" height="105" fill="rgba(0,128,28,0.52)"/>
<rect x="428" y="1111" width="6" height="22" fill="rgba(150,36,44,0.5)"/>
<rect x="436" y="1094" width="6" height="39" fill="rgba(0,128,28,0.52)"/>
<rect x="443" y="1101" width="6" height="32" fill="rgba(0,128,28,0.52)"/>
<rect x="451" y="1091" width="6" height="42" fill="rgba(0,128,28,0.52)"/>
<rect x="459" y="1121" width="6" height="12" fill="rgba(150,36,44,0.5)"/>
<rect x="466" y="1112" width="6" height="21" fill="rgba(0,128,28,0.52)"/>
<rect x="474" y="1113" width="6" height="20" fill="rgba(150,36,44,0.5)"/>
<rect x="482" y="1125" width="6" height="8" fill="rgba(150,36,44,0.5)"/>
<rect x="489" y="1126" width="6" height="7" fill="rgba(0,128,28,0.52)"/>
<rect x="497" y="1117" width="6" height="16" fill="rgba(0,128,28,0.52)"/>
<rect x="505" y="1126" width="6" height="7" fill="rgba(150,36,44,0.5)"/>
<rect x="512" y="1101" width="6" height="32" fill="rgba(0,128,28,0.52)"/>
<rect x="520" y="981" width="6" height="152" fill="rgba(0,128,28,0.52)"/>
<rect x="527" y="1099" width="6" height="34" fill="rgba(150,36,44,0.5)"/>
<rect x="535" y="1094" width="6" height="39" fill="rgba(0,128,28,0.52)"/>
<rect x="543" y="1110" width="6" height="23" fill="rgba(0,128,28,0.52)"/>
<rect x="550" y="1113" width="6" height="20" fill="rgba(150,36,44,0.5)"/>
<rect x="558" y="1123" width="6" height="10" fill="rgba(0,128,28,0.52)"/>
<rect x="566" y="1121" width="6" height="12" fill="rgba(0,128,28,0.52)"/>
<rect x="573" y="1117" width="6" height="16" fill="rgba(0,128,28,0.52)"/>
<rect x="581" y="1087" width="6" height="46" fill="rgba(0,128,28,0.52)"/>
<rect x="589" y="1077" width="6" height="56" fill="rgba(150,36,44,0.5)"/>
<rect x="596" y="1102" width="6" height="31" fill="rgba(150,36,44,0.5)"/>
<rect x="604" y="1109" width="6" height="24" fill="rgba(0,128,28,0.52)"/>
<rect x="612" y="1115" width="6" height="18" fill="rgba(0,128,28,0.52)"/>
<rect x="619" y="1102" width="6" height="31" fill="rgba(150,36,44,0.5)"/>
<rect x="627" y="1099" width="6" height="34" fill="rgba(150,36,44,0.5)"/>
<rect x="634" y="1077" width="6" height="56" fill="rgba(0,128,28,0.52)"/>
<rect x="642" y="1042" width="6" height="91" fill="rgba(150,36,44,0.5)"/>
<rect x="650" y="1085" width="6" height="48" fill="rgba(0,128,28,0.52)"/>
<rect x="657" y="1097" width="6" height="36" fill="rgba(0,128,28,0.52)"/>
<rect x="665" y="1102" width="6" height="31" fill="rgba(0,128,28,0.52)"/>
<rect x="673" y="1099" width="6" height="34" fill="rgba(150,36,44,0.5)"/>
<rect x="680" y="1053" width="6" height="80" fill="rgba(150,36,44,0.5)"/>
<rect x="688" y="1063" width="6" height="70" fill="rgba(150,36,44,0.5)"/>
<rect x="696" y="1061" width="6" height="72" fill="rgba(150,36,44,0.5)"/>
<rect x="703" y="1067" width="6" height="66" fill="rgba(150,36,44,0.5)"/>
<rect x="711" y="1071" width="6" height="62" fill="rgba(0,128,28,0.52)"/>
<rect x="718" y="1071" width="6" height="62" fill="rgba(150,36,44,0.5)"/>
<rect x="726" y="1093" width="6" height="40" fill="rgba(0,128,28,0.52)"/>
<rect x="734" y="1093" width="6" height="40" fill="rgba(150,36,44,0.5)"/>
<rect x="741" y="1115" width="6" height="18" fill="rgba(150,36,44,0.5)"/>
<rect x="749" y="1119" width="6" height="14" fill="rgba(0,128,28,0.52)"/>
<rect x="757" y="1107" width="6" height="26" fill="rgba(150,36,44,0.5)"/>
<rect x="764" y="1110" width="6" height="23" fill="rgba(0,128,28,0.52)"/>
<rect x="772" y="1120" width="6" height="13" fill="rgba(0,128,28,0.52)"/>
<rect x="780" y="1123" width="6" height="10" fill="rgba(0,128,28,0.52)"/>
<rect x="787" y="1115" width="6" height="18" fill="rgba(0,128,28,0.52)"/>
<rect x="795" y="1126" width="6" height="7" fill="rgba(0,128,28,0.52)"/>
<rect x="803" y="1125" width="6" height="8" fill="rgba(150,36,44,0.5)"/>
<rect x="810" y="1107" width="6" height="26" fill="rgba(0,128,28,0.52)"/>
<rect x="818" y="1069" width="6" height="64" fill="rgba(0,128,28,0.52)"/>
<rect x="825" y="1011" width="6" height="122" fill="rgba(150,36,44,0.5)"/>
<rect x="833" y="1083" width="6" height="50" fill="rgba(150,36,44,0.5)"/>
<rect x="841" y="1087" width="6" height="46" fill="rgba(0,128,28,0.52)"/>
<rect x="848" y="1111" width="6" height="22" fill="rgba(150,36,44,0.5)"/>
<rect x="856" y="1093" width="6" height="40" fill="rgba(150,36,44,0.5)"/>
<rect x="864" y="1026" width="6" height="107" fill="rgba(150,36,44,0.5)"/>
<rect x="871" y="1031" width="6" height="102" fill="rgba(150,36,44,0.5)"/>
<rect x="879" y="1074" width="6" height="59" fill="rgba(0,128,28,0.52)"/>
<rect x="887" y="1121" width="6" height="12" fill="rgba(0,128,28,0.52)"/>
<rect x="894" y="1123" width="6" height="10" fill="rgba(150,36,44,0.5)"/>
<rect x="902" y="1099" width="6" height="34" fill="rgba(150,36,44,0.5)"/>
<rect x="910" y="1079" width="6" height="54" fill="rgba(0,128,28,0.52)"/>
<rect x="917" y="1123" width="6" height="10" fill="rgba(0,128,28,0.52)"/>
<rect x="925" y="1127" width="6" height="6" fill="rgba(150,36,44,0.5)"/>
<rect x="932" y="1125" width="6" height="8" fill="rgba(0,128,28,0.52)"/>
<rect x="940" y="1097" width="6" height="36" fill="rgba(0,128,28,0.52)"/>
<rect x="948" y="1123" width="6" height="10" fill="rgba(0,128,28,0.52)"/>
<rect x="955" y="1119" width="6" height="14" fill="rgba(0,128,28,0.52)"/>
<rect x="963" y="1124" width="6" height="9" fill="rgba(150,36,44,0.5)"/>
<rect x="971" y="1088" width="6" height="45" fill="rgba(150,36,44,0.5)"/>
<rect x="978" y="1123" width="6" height="10" fill="rgba(150,36,44,0.5)"/>
<rect x="986" y="1123" width="6" height="10" fill="rgba(0,128,28,0.52)"/>
<rect x="994" y="1119" width="6" height="14" fill="rgba(0,128,28,0.52)"/>
<rect x="1001" y="1075" width="6" height="58" fill="rgba(150,36,44,0.5)"/>
<rect x="1009" y="1099" width="6" height="34" fill="rgba(150,36,44,0.5)"/>
<rect x="1017" y="1037" width="6" height="96" fill="rgba(150,36,44,0.5)"/>
<rect x="1024" y="1077" width="6" height="56" fill="rgba(150,36,44,0.5)"/>
<rect x="1032" y="1083" width="6" height="50" fill="rgba(0,128,28,0.52)"/>
<rect x="1039" y="850" width="6" height="283" fill="rgba(150,36,44,0.5)"/>
<rect x="1047" y="1032" width="6" height="101" fill="rgba(150,36,44,0.5)"/>
<rect x="1055" y="1077" width="6" height="56" fill="rgba(0,128,28,0.52)"/>
<rect x="1062" y="1109" width="6" height="24" fill="rgba(0,128,28,0.52)"/>
<rect x="1070" y="1102" width="6" height="31" fill="rgba(150,36,44,0.5)"/>
<rect x="1078" y="1077" width="6" height="56" fill="rgba(150,36,44,0.5)"/>
<rect x="1085" y="1077" width="6" height="56" fill="rgba(0,128,28,0.52)"/>
<rect x="1093" y="1102" width="6" height="31" fill="rgba(150,36,44,0.5)"/>
<rect x="1101" y="1099" width="6" height="34" fill="rgba(0,128,28,0.52)"/>
<rect x="1108" y="1105" width="6" height="28" fill="rgba(150,36,44,0.5)"/>
<rect x="1116" y="878" width="6" height="255" fill="rgba(150,36,44,0.5)"/>
<rect x="1124" y="1034" width="6" height="99" fill="rgba(0,128,28,0.52)"/>
<rect x="1131" y="1099" width="6" height="34" fill="rgba(0,128,28,0.52)"/>
<rect x="1139" y="1094" width="6" height="39" fill="rgba(0,128,28,0.52)"/>
<rect x="1146" y="1111" width="6" height="22" fill="rgba(150,36,44,0.5)"/>
<rect x="1154" y="1091" width="6" height="42" fill="rgba(150,36,44,0.5)"/>
<rect x="1162" y="1079" width="6" height="54" fill="rgba(150,36,44,0.5)"/>
<rect x="1169" y="1095" width="6" height="38" fill="rgba(150,36,44,0.5)"/>
<rect x="1177" y="1041" width="6" height="92" fill="rgba(150,36,44,0.5)"/>
<rect x="1185" y="1015" width="6" height="118" fill="rgba(150,36,44,0.5)"/>
<rect x="1192" y="1085" width="6" height="48" fill="rgba(0,128,28,0.52)"/>
<rect x="1200" y="1063" width="6" height="70" fill="rgba(150,36,44,0.5)"/>
<rect x="1208" y="1088" width="6" height="45" fill="rgba(0,128,28,0.52)"/>
<rect x="1215" y="979" width="6" height="154" fill="rgba(150,36,44,0.5)"/>
<rect x="1223" y="1075" width="6" height="58" fill="rgba(150,36,44,0.5)"/>
<rect x="1231" y="1033" width="6" height="100" fill="rgba(150,36,44,0.5)"/>
<rect x="1238" y="1041" width="6" height="92" fill="rgba(0,128,28,0.52)"/>
<rect x="1246" y="1103" width="6" height="30" fill="rgba(0,128,28,0.52)"/>
<rect x="1253" y="1110" width="6" height="23" fill="rgba(150,36,44,0.5)"/>
<rect x="1261" y="1049" width="6" height="84" fill="rgba(0,128,28,0.52)"/>
<rect x="1269" y="1060" width="6" height="73" fill="rgba(0,128,28,0.52)"/>
<rect x="1276" y="1085" width="6" height="48" fill="rgba(0,128,28,0.52)"/>
<rect x="1284" y="1074" width="6" height="59" fill="rgba(150,36,44,0.5)"/>
<rect x="1292" y="1089" width="6" height="44" fill="rgba(0,128,28,0.52)"/>
<rect x="1299" y="1072" width="6" height="61" fill="rgba(0,128,28,0.52)"/>
<rect x="1307" y="1120" width="6" height="13" fill="rgba(150,36,44,0.5)"/>
<rect x="1315" y="1123" width="6" height="10" fill="rgba(150,36,44,0.5)"/>
<rect x="1322" y="1056" width="6" height="77" fill="rgba(150,36,44,0.5)"/>
<rect x="1330" y="1072" width="6" height="61" fill="rgba(0,128,28,0.52)"/>
<rect x="1338" y="1105" width="6" height="28" fill="rgba(150,36,44,0.5)"/>
<rect x="1345" y="1120" width="6" height="13" fill="rgba(150,36,44,0.5)"/>
<rect x="1353" y="1067" width="6" height="66" fill="rgba(0,128,28,0.52)"/>
<rect x="1360" y="1087" width="6" height="46" fill="rgba(150,36,44,0.5)"/>
<rect x="1368" y="1091" width="6" height="42" fill="rgba(0,128,28,0.52)"/>
<rect x="1376" y="984" width="6" height="149" fill="rgba(0,128,28,0.52)"/>
<rect x="1383" y="1038" width="6" height="95" fill="rgba(150,36,44,0.5)"/>
<rect x="1391" y="1039" width="6" height="94" fill="rgba(150,36,44,0.5)"/>
<rect x="1399" y="1075" width="6" height="58" fill="rgba(0,128,28,0.52)"/>
<rect x="1406" y="1075" width="6" height="58" fill="rgba(0,128,28,0.52)"/>
<rect x="1414" y="1102" width="6" height="31" fill="rgba(0,128,28,0.52)"/>
<rect x="1422" y="1103" width="6" height="30" fill="rgba(150,36,44,0.5)"/>
<rect x="1429" y="1113" width="6" height="20" fill="rgba(0,128,28,0.52)"/>
<rect x="1437" y="1126" width="6" height="7" fill="rgba(0,128,28,0.52)"/>
<rect x="1444" y="1125" width="6" height="8" fill="rgba(0,128,28,0.52)"/>
<rect x="1452" y="1115" width="6" height="18" fill="rgba(0,128,28,0.52)"/>
<rect x="1460" y="1121" width="6" height="12" fill="rgba(0,128,28,0.52)"/>
<rect x="1467" y="1099" width="6" height="34" fill="rgba(0,128,28,0.52)"/>
<rect x="1475" y="1113" width="6" height="20" fill="rgba(0,128,28,0.52)"/>
<rect x="1483" y="1109" width="6" height="24" fill="rgba(0,128,28,0.52)"/>
<rect x="1490" y="1123" width="6" height="10" fill="rgba(150,36,44,0.5)"/>
<rect x="1498" y="1121" width="6" height="12" fill="rgba(150,36,44,0.5)"/>
<rect x="1506" y="1123" width="6" height="10" fill="rgba(0,128,28,0.52)"/>
<rect x="1513" y="1128" width="6" height="5" fill="rgba(0,128,28,0.52)"/>
<rect x="1521" y="1125" width="6" height="8" fill="rgba(150,36,44,0.5)"/>
<rect x="1529" y="1120" width="6" height="13" fill="rgba(0,128,28,0.52)"/>
<rect x="1536" y="1123" width="6" height="10" fill="rgba(150,36,44,0.5)"/>
<rect x="1544" y="1120" width="6" height="13" fill="rgba(150,36,44,0.5)"/>
<rect x="1551" y="1111" width="6" height="22" fill="rgba(150,36,44,0.5)"/>
<rect x="1559" y="1113" width="6" height="20" fill="rgba(150,36,44,0.5)"/>
<rect x="1567" y="1091" width="6" height="42" fill="rgba(0,128,28,0.52)"/>
<rect x="1574" y="1105" width="6" height="28" fill="rgba(0,128,28,0.52)"/>
<rect x="1582" y="1113" width="6" height="20" fill="rgba(150,36,44,0.5)"/>
<rect x="1590" y="1128" width="6" height="5" fill="rgba(0,128,28,0.52)"/>
<rect x="1597" y="1125" width="6" height="8" fill="rgba(150,36,44,0.5)"/>
<rect x="1605" y="1126" width="6" height="7" fill="rgba(0,128,28,0.52)"/>
<rect x="1613" y="1115" width="6" height="18" fill="rgba(150,36,44,0.5)"/>
<rect x="1620" y="1119" width="6" height="14" fill="rgba(0,128,28,0.52)"/>
<rect x="1628" y="1120" width="6" height="13" fill="rgba(0,128,28,0.52)"/>
<rect x="1636" y="1109" width="6" height="24" fill="rgba(150,36,44,0.5)"/>
<rect x="1643" y="1124" width="6" height="9" fill="rgba(0,128,28,0.52)"/>
<rect x="1651" y="1110" width="6" height="23" fill="rgba(0,128,28,0.52)"/>
<rect x="1658" y="1129" width="6" height="4" fill="rgba(0,128,28,0.52)"/>
<rect x="1666" y="1081" width="6" height="52" fill="rgba(0,128,28,0.52)"/>
<rect x="1674" y="1097" width="6" height="36" fill="rgba(150,36,44,0.5)"/>
<rect x="1681" y="1097" width="6" height="36" fill="rgba(0,128,28,0.52)"/>
<rect x="1689" y="1089" width="6" height="44" fill="rgba(0,128,28,0.52)"/>
<rect x="1697" y="1115" width="6" height="18" fill="rgba(150,36,44,0.5)"/>
<rect x="1704" y="1101" width="6" height="32" fill="rgba(150,36,44,0.5)"/>
<rect x="1712" y="1102" width="6" height="31" fill="rgba(150,36,44,0.5)"/>
<rect x="1720" y="1107" width="6" height="26" fill="rgba(0,128,28,0.52)"/>
<rect x="1727" y="1110" width="6" height="23" fill="rgba(150,36,44,0.5)"/>
<rect x="1735" y="1059" width="6" height="74" fill="rgba(150,36,44,0.5)"/>
<rect x="1743" y="1110" width="6" height="23" fill="rgba(150,36,44,0.5)"/>
<rect x="1750" y="1118" width="6" height="15" fill="rgba(150,36,44,0.5)"/>
<rect x="1758" y="1093" width="6" height="40" fill="rgba(150,36,44,0.5)"/>
<rect x="1765" y="1123" width="6" height="10" fill="rgba(0,128,28,0.52)"/>
<rect x="1773" y="1125" width="6" height="8" fill="rgba(0,128,28,0.52)"/>
<rect x="1781" y="1121" width="6" height="12" fill="rgba(150,36,44,0.5)"/>
<rect x="1788" y="1126" width="6" height="7" fill="rgba(150,36,44,0.5)"/>
<rect x="1796" y="1124" width="6" height="9" fill="rgba(150,36,44,0.5)"/>
<rect x="1804" y="1099" width="6" height="34" fill="rgba(150,36,44,0.5)"/>
<rect x="1811" y="1069" width="6" height="64" fill="rgba(0,128,28,0.52)"/>
<rect x="1819" y="1095" width="6" height="38" fill="rgba(150,36,44,0.5)"/>
<rect x="1827" y="1088" width="6" height="45" fill="rgba(150,36,44,0.5)"/>
<rect x="1834" y="1058" width="6" height="75" fill="rgba(150,36,44,0.5)"/>
<rect x="1842" y="1063" width="6" height="70" fill="rgba(150,36,44,0.5)"/>
<rect x="1850" y="1074" width="6" height="59" fill="rgba(150,36,44,0.5)"/>
<rect x="1857" y="1113" width="6" height="20" fill="rgba(150,36,44,0.5)"/>
<rect x="1865" y="1087" width="6" height="46" fill="rgba(150,36,44,0.5)"/>
<rect x="1872" y="1085" width="6" height="48" fill="rgba(150,36,44,0.5)"/>
<rect x="1880" y="1069" width="6" height="64" fill="rgba(0,128,28,0.52)"/>
<rect x="1888" y="1083" width="6" height="50" fill="rgba(150,36,44,0.5)"/>
<!-- last price dotted line -->
<line x1="2" y1="569" x2="3077" y2="569" stroke="#f23645" stroke-width="2" stroke-dasharray="2 4"/>
<g shape-rendering="auto">
<circle cx="2982" cy="588" r="50" fill="#ebebeb"/>
<path d="M2972.5 573.5 L2997 588 L2972.5 602.5 Z" fill="#3b72d9" stroke="#3b72d9" stroke-width="3" stroke-linejoin="round"/>
</g>
</svg>

<!-- legend dim overlay -->
<div class="abs" style="left:0;top:0;width:1428px;height:48px;background:rgba(19,23,34,0.72);"></div>

<!-- symbol icon -->
<svg class="gs" width="60" height="50" viewBox="0 0 60 50" style="left:0;top:0">
<circle cx="26" cy="23.8" r="18.2" fill="#f9a33a"/>
<g transform="rotate(14 26 24)" shape-rendering="auto">
<text x="26.6" y="31.4" font-family="Liberation Sans" font-weight="bold" font-size="21" fill="#f6f2ec" text-anchor="middle">B</text>
<g stroke="#f6f2ec" stroke-width="2"><line x1="23.8" y1="13.2" x2="23.8" y2="17"/><line x1="28" y1="13.2" x2="28" y2="17"/><line x1="23.8" y1="31" x2="23.8" y2="34.8"/><line x1="28" y1="31" x2="28" y2="34.8"/></g>
</g>
</svg>
<div class="abs" id="title" style="left:53px;top:6px;height:38px;line-height:38px;font-size:32px;color:#b2b5be;letter-spacing:-0.14px;">Bitcoin / U.S. Dollar · 1h · Bitstamp</div>
<div class="lg k" id="kO" style="left:560px">O</div><div class="lg v" id="vO" style="left:586px">107,544</div>
<div class="lg k" id="kH" style="left:699px">H</div><div class="lg v" id="vH" style="left:721px">107,893</div>
<div class="lg k" id="kL" style="left:837px">L</div><div class="lg v" id="vL" style="left:856px">107,077</div>
<div class="lg k" id="kC" style="left:970px">C</div><div class="lg v" id="vC" style="left:992px">107,092</div>
<div class="lg v" id="vD" style="left:1108px">−469 (−0.44%)</div>
<div class="lg k" id="kV" style="left:1308.5px;letter-spacing:-0.6px">Vol</div><div class="lg v" id="vV" style="left:1347px;letter-spacing:1.8px">75.39</div>

<!-- collapse button -->
<div class="abs" style="left:6.5px;top:54px;width:55px;height:40px;border:1.5px solid #4a4d57;border-radius:6px;"></div>
<svg width="70" height="100" viewBox="0 0 70 100" style="left:0;top:0"><polyline points="28,72 35,78.6 42,72" fill="none" stroke="#ebebeb" stroke-width="2.6" stroke-linecap="round" stroke-linejoin="round"/></svg>

<!-- TradingView logo -->
<svg class="gs" width="360" height="70" viewBox="0 1060 360 70" style="left:0;top:1060px">
<g stroke="#111" stroke-width="8" stroke-linejoin="round" fill="#111">
<path d="M13.5 1080.5 H38.5 V1110 H25.5 V1092 H13.5 Z"/><circle cx="48" cy="1087" r="5.8"/><path d="M60 1080.5 H74.5 L63 1110 H48.5 Z"/>
<text x="87" y="1110" font-family="Liberation Sans" font-weight="bold" font-size="40.5" textLength="243" lengthAdjust="spacingAndGlyphs">TradingView</text>
</g>
<g fill="#e0e0e0">
<path d="M13.5 1080.5 H38.5 V1110 H25.5 V1092 H13.5 Z"/><circle cx="48" cy="1087" r="5.8"/><path d="M60 1080.5 H74.5 L63 1110 H48.5 Z"/>
<text x="87" y="1110" font-family="Liberation Sans" font-weight="bold" font-size="40.5" textLength="243" lengthAdjust="spacingAndGlyphs">TradingView</text>
</g>
</svg>

<!-- price axis -->
<div class="pl" style="top:1023.3px">100,000</div>
<div class="pl" style="top:957px">101,000</div>
<div class="pl" style="top:890.7px">102,000</div>
<div class="pl" style="top:824.5px">103,000</div>
<div class="pl" style="top:758.2px">104,000</div>
<div class="pl" style="top:691.9px">105,000</div>
<div class="pl" style="top:625.6px">106,000</div>
<div class="pl" style="top:559.3px">107,000</div>
<div class="pl" style="top:493.1px">108,000</div>
<div class="pl" style="top:426.8px">109,000</div>
<div class="pl" style="top:360.5px">110,000</div>
<div class="pl" style="top:294.2px">111,000</div>
<div class="pl" style="top:227.9px">112,000</div>
<div class="pl" style="top:161.7px">113,000</div>
<div class="pl" style="top:95.4px">114,000</div>
<div class="tag" style="top:314px;background:#f23645;color:#f4f4f4;">110,681</div>
<div class="tag" style="top:552px;background:#f23645;color:#f4f4f4;">107,092</div>
<div class="tag" style="top:598px;background:#ffeb3b;color:#000;border-radius:0 3px 3px 0;">106,400</div>
<div class="tag" style="top:632px;background:#787b86;color:#f4f4f4;">106,155</div>
<div class="tag" style="top:838px;background:#ffeb3b;color:#000;">102,784</div>
<div class="abs" style="left:3082px;top:1118px;width:110px;height:16px;background:#089981;overflow:hidden;border-radius:0 3px 0 0;"><div style="position:absolute;left:18px;top:5px;font-size:25px;letter-spacing:1px;color:#fff;line-height:30px;">98,889</div></div>
<div class="tag" style="top:1088px;width:110px;background:#ffeb3b;color:#000;border-radius:0 4px 4px 0;text-indent:17px;">99,000</div>

<!-- USD -->
<div class="abs" style="left:3088px;top:-1px;width:130px;height:49px;border:2px solid #434651;border-radius:7px;background:#0f0f0f;"></div>
<div class="abs" style="left:3097px;top:12px;height:30px;line-height:30px;font-size:24px;color:#dbdce1;">USD</div>

<!-- time axis -->
<div class="tl" style="left:-62px">24</div>
<div class="tl" style="left:121.4px">25</div>
<div class="tl" style="left:304.8px">26</div>
<div class="tl" style="left:488.2px">27</div>
<div class="tl" style="left:671.6px">28</div>
<div class="tl" style="left:855px">29</div>
<div class="tl" style="left:1038.4px">30</div>
<div class="tl" style="left:1221.8px">31</div>
<div class="tl b" style="left:1405.2px">Nov</div>
<div class="tl" style="left:1588.6px">2</div>
<div class="tl" style="left:1772px">3</div>
<div class="tl" style="left:1955.4px">4</div>
<div class="tl" style="left:2138.8px">5</div>
<div class="tl" style="left:2322.2px">6</div>
<div class="tl" style="left:2505.6px">7</div>
<div class="tl" style="left:2689px">8</div>
<div class="tl" style="left:2872.4px">9</div>
</body></html>
